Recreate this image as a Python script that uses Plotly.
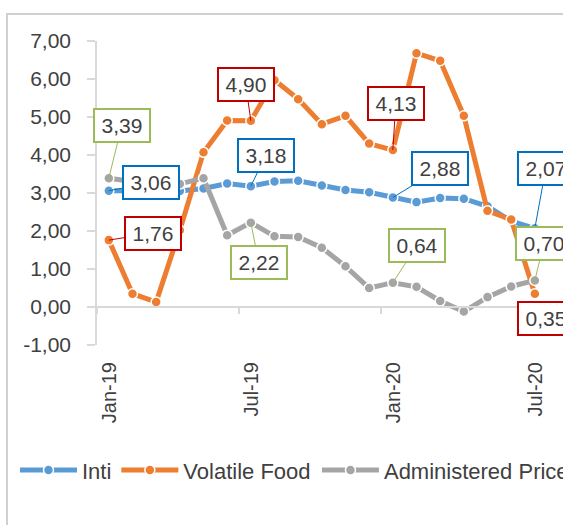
import plotly.graph_objects as go

months = ["Jan-19", "Feb-19", "Mar-19", "Apr-19", "May-19", "Jun-19", "Jul-19", "Aug-19",
          "Sep-19", "Oct-19", "Nov-19", "Dec-19", "Jan-20", "Feb-20", "Mar-20", "Apr-20",
          "May-20", "Jun-20", "Jul-20"]
inti = [3.06, 3.06, 3.03, 3.05, 3.12, 3.25, 3.18, 3.30, 3.32, 3.20, 3.08, 3.02,
        2.88, 2.76, 2.87, 2.85, 2.65, 2.26, 2.07]
volatile = [1.76, 0.35, 0.13, 2.02, 4.07, 4.91, 4.90, 5.97, 5.47, 4.81, 5.03, 4.30,
            4.13, 6.68, 6.48, 5.03, 2.53, 2.30, 0.35]
administered = [3.39, 3.30, 3.22, 3.24, 3.39, 1.89, 2.22, 1.86, 1.84, 1.56, 1.07, 0.50,
                0.64, 0.53, 0.16, -0.12, 0.26, 0.54, 0.70]
tick_labels = ["Jan-19", "Jul-19", "Jan-20", "Jul-20"]
y_ticks = [-1, 0, 1, 2, 3, 4, 5, 6, 7]
y_tick_text = ["-1,00", "0,00", "1,00", "2,00", "3,00", "4,00", "5,00", "6,00", "7,00"]

x = list(range(len(months)))
FONT = "Liberation Sans"
TXT = "#404040"
BLUE, ORANGE, GRAY = "#5B9BD5", "#ED7D31", "#A5A5A5"
RED_B, BLUE_B, GREEN_B = "#C00000", "#0070C0", "#9BBB59"

fig = go.Figure()
for name, vals, col, leg in [("Inti", inti, BLUE, "legend"),
                             ("Volatile Food", volatile, ORANGE, "legend"),
                             ("Administered Prices", administered, GRAY, "legend2")]:
    fig.add_trace(go.Scatter(
        x=x, y=vals, name=name, mode="lines+markers", legend=leg,
        line=dict(color=col, width=5),
        marker=dict(size=10, color=col, line=dict(color="white", width=1.5)),
        hovertext=months,
    ))

# data labels: (series values, index, border colour, ax, ay)
labels = [
    (administered, 0, GREEN_B, 13, -53),
    (inti, 0, BLUE_B, 42, -8),
    (volatile, 0, RED_B, 44, -7),
    (volatile, 6, RED_B, -5, -36),
    (inti, 6, BLUE_B, 15, -31),
    (administered, 6, GREEN_B, 8, 40),
    (volatile, 12, RED_B, 3, -47),
    (inti, 12, BLUE_B, 47, -29),
    (administered, 12, GREEN_B, 24, -37),
    (inti, 18, BLUE_B, 11, -60),
    (administered, 18, GREEN_B, 9, -37),
]
for vals, i, col, ax, ay in labels:
    fig.add_annotation(
        x=i, y=vals[i], text=f"{vals[i]:.2f}".replace(".", ","),
        showarrow=True, arrowhead=0, arrowwidth=1, arrowcolor=col, standoff=0,
        ax=ax, ay=ay, bordercolor=col, borderwidth=2, borderpad=2, bgcolor="white",
        width=50, height=27, font=dict(family=FONT, size=21, color=TXT),
    )
fig.add_annotation(
    x=18, y=volatile[18], text=f"{volatile[18]:.2f}".replace(".", ","),
    showarrow=False, xshift=11, yshift=-25,
    bordercolor=RED_B, borderwidth=2, borderpad=2, bgcolor="white",
    width=50, height=27, font=dict(family=FONT, size=21, color=TXT),
)

# outer chart frame
fig.add_shape(type="rect", xref="paper", yref="paper", x0=-0.1931, x1=1.3, y0=-1.0, y1=1.0888,
              line=dict(color="#D0D0D0", width=2), fillcolor="rgba(0,0,0,0)", layer="below")

legend_common = dict(orientation="h", yanchor="middle", y=-0.412, xanchor="left",
                     font=dict(family=FONT, size=22, color=TXT), itemwidth=57,
                     tracegroupgap=0, bgcolor="rgba(0,0,0,0)")

fig.update_layout(
    width=563, height=525,
    margin=dict(l=97, r=0, t=41, b=180, pad=0, autoexpand=False),
    paper_bgcolor="white", plot_bgcolor="white",
    separators=",.",
    font=dict(family=FONT, size=20, color=TXT),
    showlegend=True,
    legend=dict(x=-0.176, **legend_common),
    legend2=dict(x=0.472, **legend_common),
    xaxis=dict(
        range=[-0.5, 19.19], anchor="free", position=0.125,
        showline=True, linecolor="#D9D9D9", linewidth=2,
        showgrid=False, zeroline=False,
        tickmode="array", tickvals=[-0.5, 5.5, 11.5, 17.5], ticktext=tick_labels,
        ticks="outside", ticklen=6, tickwidth=1.5, tickcolor="#D9D9D9",
        tickangle=-90, ticklabelshift=12, ticklabelstandoff=40,
        tickfont=dict(family=FONT, size=20, color=TXT),
    ),
    yaxis=dict(
        range=[-1, 7], tickmode="array", tickvals=y_ticks, ticktext=y_tick_text,
        showline=True, linecolor="#D9D9D9", linewidth=1.5,
        showgrid=False, zeroline=False,
        ticks="outside", ticklen=8, tickwidth=1.5, tickcolor="#D9D9D9",
        ticklabelstandoff=12,
        tickfont=dict(family=FONT, size=21, color=TXT),
    ),
)

fig.write_html("out.html", config={"displayModeBar": False},
               post_script="document.body.style.margin='0';document.body.style.overflow='hidden';")
